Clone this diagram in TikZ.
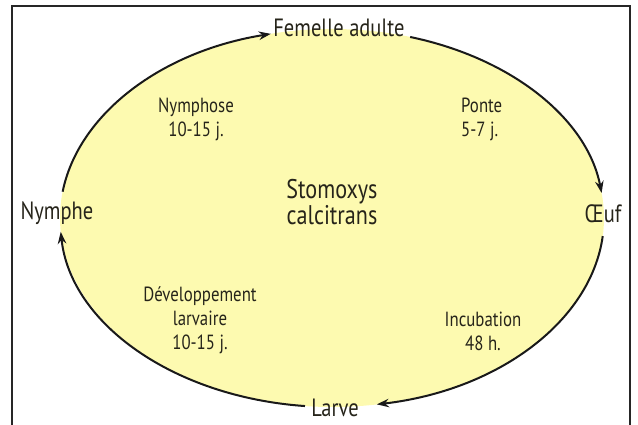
\documentclass[tikz,border=0pt]{standalone}
\usepackage{fontspec}
\setmainfont{PT Sans}[FakeStretch=0.82]
\usetikzlibrary{arrows.meta,calc}
\definecolor{ellfill}{HTML}{FDFAB0}
\definecolor{txt}{HTML}{26241A}
\tikzset{
  stage/.style={text=txt, font=\fontsize{25}{26}\selectfont, inner sep=0pt},
  dur/.style={text=txt, font=\fontsize{20.5}{24}\selectfont, inner sep=0pt, align=center},
  title/.style={text=txt, font=\fontsize{27}{26}\selectfont, inner sep=0pt, align=center},
  cyc/.style={line width=2pt, draw=black!90, -{Stealth[length=12pt,width=8.5pt]}},
}
\begin{document}
\begin{tikzpicture}[x=1pt,y=1pt]
\useasboundingbox (0,0) rectangle (638,425);
% frame
\draw[line width=2.2pt, black!85] (12,-5) -- (12,419) -- (630,419) -- (630,-5);
% ellipse
\fill[ellfill] (332,207) ellipse[x radius=272, y radius=189];
% stage names
\node[stage] (fem) at (339,397) {Femelle adulte};
\node[stage] (oeuf) at (603,211) {Œuf};
\node[stage] (larve) at (335,17) {Larve};
\node[stage] (nymphe) at (57,212) {Nymphe};
% durations
\node[dur] (nymphose) at (196,306) {Nymphose\\10-15 j.};
\node[dur, align=left, anchor=west] (ponte) at (461,306) {Ponte\\5-7 j.};
\node[title] (stomo) at (332,223) {Stomoxys\\calcitrans};
\node[dur] (dev) at (200,105) {Développement\\larvaire\\10-15 j.};
\node[dur] (incub) at (483,94) {Incubation\\48 h.};
% arc end points on the ellipse
\coordinate (a1s) at ($(332,207)+(172:272 and 189)$);
\coordinate (a2s) at ($(332,207)+(73.3:272 and 189)$);
\coordinate (a3s) at ($(332,207)+(-5.5:272 and 189)$);
\coordinate (a4s) at ($(332,207)+(-95.7:272 and 189)$);
% cycle arrows
\draw[cyc] (a1s) arc[start angle=172, end angle=103, x radius=272, y radius=189];
\draw[cyc] (a2s) arc[start angle=73.3, end angle=7.6, x radius=272, y radius=189];
\draw[cyc] (a3s) arc[start angle=-5.5, end angle=-80.5, x radius=272, y radius=189];
\draw[cyc] (a4s) arc[start angle=-95.7, end angle=-175.8, x radius=272, y radius=189];
\end{tikzpicture}
\end{document}
